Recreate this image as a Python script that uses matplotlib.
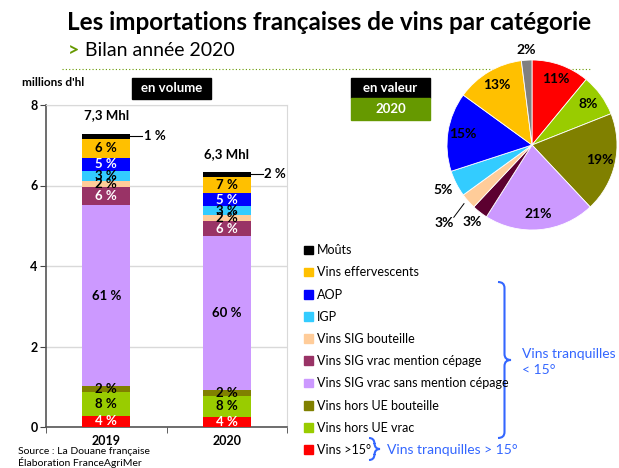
import matplotlib.pyplot as plt
from matplotlib.patches import Rectangle, Patch, PathPatch
from matplotlib.path import Path
import numpy as np

plt.rcParams['font.family'] = ['Lato', 'DejaVu Sans']

# categories from bottom of the stack to the top
categories = ['Vins >15°', 'Vins hors UE vrac', 'Vins hors UE bouteille',
              'Vins SIG vrac sans mention cépage', 'Vins SIG vrac mention cépage',
              'Vins SIG bouteille', 'IGP', 'AOP', 'Vins effervescents', 'Moûts']
colors = ['#FF0000', '#99CC00', '#808000', '#CC99FF', '#993366',
          '#FFCC99', '#33CCFF', '#0000FF', '#FFC000', '#000000']
years = ['2019', '2020']
vol_2019 = [0.28, 0.58, 0.16, 4.49, 0.45, 0.15, 0.25, 0.33, 0.46, 0.14]
vol_2020 = [0.26, 0.51, 0.15, 3.83, 0.36, 0.15, 0.22, 0.33, 0.41, 0.12]
pct_2019 = ['4 %', '8 %', '2 %', '61 %', '6 %', '2 %', '3 %', '5 %', '6 %', '1 %']
pct_2020 = ['4 %', '8 %', '2 %', '60 %', '6 %', '2 %', '3 %', '5 %', '7 %', '2 %']
totals = ['7,3 Mhl', '6,3 Mhl']
label_colors = ['white', 'black', 'black', 'black', 'white',
                'black', 'black', 'white', 'black', 'black']

# pie (value 2020), clockwise from the top
pie_values = [11, 8, 19, 21, 3, 3, 5, 15, 13, 2]
pie_colors = ['#FF0000', '#99CC00', '#808000', '#CC99FF', '#5C0030',
              '#FFCC99', '#33CCFF', '#0000FF', '#FFC000', '#808080']

fig = plt.figure(figsize=(6.19, 4.68), dpi=100)

# ---- bar chart
ax = fig.add_axes([46/619, 1-427/468, 241/619, 322/468])
bw = 0.4
data = [vol_2019, vol_2020]
pcts = [pct_2019, pct_2020]
for i in range(2):
    bottom = 0
    for j, v in enumerate(data[i]):
        ax.bar(i, v, bw, bottom=bottom, color=colors[j], zorder=3)
        if j < 9:
            ax.text(i, bottom + v/2, pcts[i][j], ha='center', va='center',
                    fontsize=9.5, fontweight='bold', color=label_colors[j], zorder=4)
        bottom += v
    top = bottom
    mid = top - data[i][-1]/2
    ax.plot([i + bw/2, i + bw/2 + 0.1], [mid, mid], color='black', lw=0.8, zorder=4)
    ax.text(i + bw/2 + 0.11, mid, pcts[i][-1], ha='left', va='center',
            fontsize=9.5, fontweight='bold')
    ax.text(i, top + 0.3, totals[i], ha='center', va='bottom',
            fontsize=9.5, fontweight='bold')

ax.set_xlim(-0.5, 1.5)
ax.set_ylim(0, 8)
ax.set_yticks([0, 2, 4, 6, 8])
ax.set_yticklabels(['0', '2', '4', '6', '8'], fontweight='bold', fontsize=9)
ax.set_xticks([0, 1])
ax.set_xticklabels(years, fontweight='bold', fontsize=9)
ax.set_xticks([-0.5, 0.5, 1.5], minor=True)
ax.tick_params(axis='x', which='major', length=0, pad=6)
ax.tick_params(axis='x', which='minor', length=4, color='#444444')
ax.tick_params(axis='y', length=4, color='#444444', pad=2)
ax.grid(axis='y', color='#D9D9D9', lw=1, zorder=0)
for s in ['top', 'right']:
    ax.spines[s].set_color('#D9D9D9')
for s in ['left', 'bottom']:
    ax.spines[s].set_color('#555555')
    ax.spines[s].set_linewidth(1.2)

# ---- pie chart
pax = fig.add_axes([447/619, 1-230/468, 170/619, 170/468])
wedges, _ = pax.pie(pie_values, colors=pie_colors, startangle=90, counterclock=False,
                    wedgeprops=dict(linewidth=0.6, edgecolor='white'))
pax.set_xlim(-1, 1)
pax.set_ylim(-1, 1)
pax.set_aspect('equal')
cum = np.cumsum([0] + pie_values[:-1])
for k, v in enumerate(pie_values):
    ang = np.deg2rad(90 - (cum[k] + v/2) * 3.6)
    r = 0.82
    if v <= 5:
        r = {4: 1.15, 5: 1.38, 6: 1.17, 9: 1.12}.get(k, 1.15)
    x, y = r*np.cos(ang), r*np.sin(ang)
    pax.text(x, y, f'{v}%', ha='center', va='center', fontsize=10,
             fontweight='bold', clip_on=False)
# leader line for the small peach wedge
pax.plot([-0.92, -0.80], [-0.85, -0.69], color='black', lw=0.7, clip_on=False)

# ---- overlay in pixel coordinates for texts and decorations
ov = fig.add_axes([0, 0, 1, 1], zorder=-1)
ov.set_xlim(0, 619)
ov.set_ylim(468, 0)
ov.axis('off')

ov.text(329, 23, 'Les importations françaises de vins par catégorie', ha='center',
        va='center', fontsize=17.5, fontweight='bold')
ov.text(68, 51, '>', ha='left', va='center', fontsize=14, fontweight='bold', color='#669900')
ov.text(85, 51, 'Bilan année 2020', ha='left', va='center', fontsize=14)
ov.plot([62, 590], [69, 69], color='#669900', lw=0.8, ls=(0, (1, 2)))

ov.text(22, 82, "millions d'hl", ha='left', va='center', fontsize=8.5, fontweight='bold')
ov.add_patch(Rectangle((132, 78), 79, 21, color='black'))
ov.text(171.5, 88.5, 'en volume', ha='center', va='center', fontsize=9.5,
        fontweight='bold', color='white')
ov.add_patch(Rectangle((351, 78), 79, 20, color='black'))
ov.text(390.5, 88, 'en valeur', ha='center', va='center', fontsize=9.5,
        fontweight='bold', color='white')
ov.add_patch(Rectangle((351, 98), 79, 22, color='#669900'))
ov.text(390.5, 109, '2020', ha='center', va='center', fontsize=9.5,
        fontweight='bold', color='white')

ov.text(18, 452, 'Source : La Douane française', ha='left', va='center', fontsize=7.5)
ov.text(18, 462, 'Élaboration FranceAgriMer', ha='left', va='center', fontsize=7.5)

# legend (top entry first)
handles = [Patch(color=c) for c in colors[::-1]]
fig.legend(handles, categories[::-1], loc='upper left',
           bbox_to_anchor=(298/619, 1-238/468), frameon=False, fontsize=9,
           handlelength=0.7, handleheight=0.7, handletextpad=0.3, labelspacing=0.815,
           borderpad=0)


def brace(x0, y0, y1, w, color):
    xm = x0 + w/2
    ym = (y0 + y1) / 2
    verts = [(x0, y0), (xm, y0), (xm, y0 + 6), (xm, ym - 6), (xm, ym), (x0 + w, ym),
             (xm, ym), (xm, ym + 6), (xm, y1 - 6), (xm, y1), (x0, y1)]
    codes = [Path.MOVETO, Path.CURVE3, Path.CURVE3, Path.LINETO, Path.CURVE3, Path.CURVE3,
             Path.CURVE3, Path.CURVE3, Path.LINETO, Path.CURVE3, Path.CURVE3]
    ov.add_patch(PathPatch(Path(verts, codes), fill=False, edgecolor=color, lw=1.5))


blue = '#3366FF'
brace(498, 282, 438, 13, blue)
brace(369, 438, 460, 11, blue)
ov.text(522, 354, 'Vins tranquilles', ha='left', va='center', fontsize=10, color=blue)
ov.text(522, 370, '< 15°', ha='left', va='center', fontsize=10, color=blue)
ov.text(387, 450, 'Vins tranquilles > 15°', ha='left', va='center', fontsize=10, color=blue)

fig.savefig('out.png', dpi=100)
